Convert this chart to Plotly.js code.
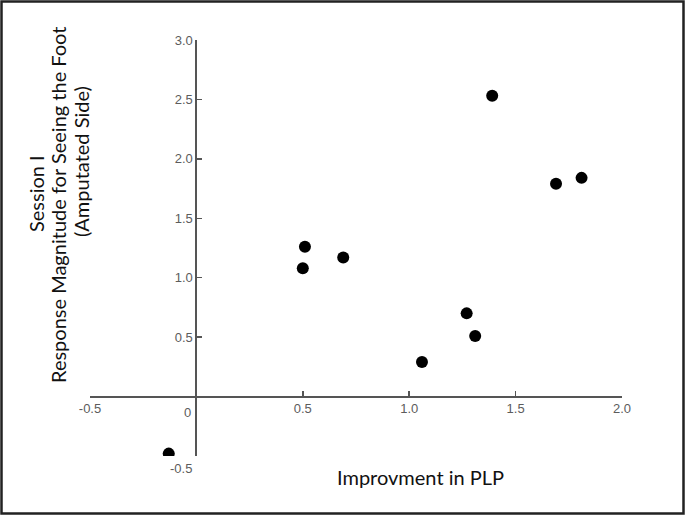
<!DOCTYPE html>
<html>
<head>
<meta charset="utf-8">
<script src="https://cdn.plot.ly/plotly-3.0.1.min.js"></script>
<style>html,body{margin:0;padding:0;background:#fff;}#chart{width:685px;height:515px;}</style>
</head>
<body>
<div id="chart"></div>
<script>
// Data
const improvementPLP = [-0.13, 0.51, 0.50, 0.69, 1.06, 1.27, 1.31, 1.39, 1.69, 1.81];
const responseMagnitude = [-0.48, 1.26, 1.08, 1.17, 0.29, 0.70, 0.51, 2.53, 1.79, 1.84];

const xTickVals = [-0.5, 0, 0.5, 1.0, 1.5, 2.0];
const xTickText = ['-0.5', '', '0.5', '1.0', '1.5', '2.0'];
const yTickVals = [-0.5, 0.5, 1.0, 1.5, 2.0, 2.5, 3.0];
const yTickText = ['', '0.5', '1.0', '1.5', '2.0', '2.5', '3.0'];

const xTitle = 'Improvment in PLP';
const yTitleLines = ['Session I', 'Response Magnitude for Seeing the Foot', '(Amputated Side)'];

const xRange = [-0.5, 2.0];
const yRange = [-0.5, 3.0];

const tickFont = {family: 'Liberation Sans, Arial, sans-serif', size: 13, color: '#5c5c5c'};
const titleFont = {family: 'Lato, Open Sans, sans-serif', size: 20, color: '#111'};

const trace = {
  x: improvementPLP,
  y: responseMagnitude,
  type: 'scatter',
  mode: 'markers',
  marker: {color: '#000', size: 12},
  hoverinfo: 'x+y',
  showlegend: false
};

const L = 90, R = 63, T = 40, B = 59, W = 685, H = 515;
const pw = W - L - R, ph = H - T - B;
function px(xp) { return (xp - L) / pw; }
function py(yp) { return (H - B - yp) / ph; }

const layout = {
  width: W, height: H,
  margin: {l: L, r: R, t: T, b: B, pad: 0},
  paper_bgcolor: '#fff',
  plot_bgcolor: '#fff',
  xaxis: {
    range: xRange,
    anchor: 'free',
    position: (0 - yRange[0]) / (yRange[1] - yRange[0]),
    showline: true, linecolor: '#555', linewidth: 2,
    showgrid: false, zeroline: false,
    ticks: 'inside', ticklen: 5, tickwidth: 1.5, tickcolor: '#555',
    tickvals: xTickVals, ticktext: xTickText,
    tickfont: tickFont,
    automargin: false, fixedrange: true
  },
  yaxis: {
    range: yRange,
    anchor: 'free',
    position: (0 - xRange[0]) / (xRange[1] - xRange[0]),
    showline: true, linecolor: '#555', linewidth: 2,
    showgrid: false, zeroline: false,
    ticks: 'inside', ticklen: 5, tickwidth: 1.5, tickcolor: '#555',
    tickvals: yTickVals, ticktext: yTickText,
    tickfont: tickFont,
    automargin: false, fixedrange: true
  },
  annotations: [
    {text: '0', xref: 'x', yref: 'y', x: 0, y: 0, xanchor: 'right', yanchor: 'top',
     xshift: -3, yshift: -6, showarrow: false, font: tickFont},
    {text: '-0.5', xref: 'x', yref: 'y', x: 0, y: -0.5, xanchor: 'right', yanchor: 'top',
     xshift: -2, yshift: -3, showarrow: false, font: tickFont},
    {text: xTitle, xref: 'paper', yref: 'paper', x: px(420), y: py(477),
     xanchor: 'center', yanchor: 'middle', showarrow: false, font: titleFont},
    {text: yTitleLines[0], xref: 'paper', yref: 'paper', x: px(36), y: py(194),
     xanchor: 'center', yanchor: 'middle', textangle: -90, showarrow: false, font: titleFont},
    {text: yTitleLines[1], xref: 'paper', yref: 'paper', x: px(58), y: py(205),
     xanchor: 'center', yanchor: 'middle', textangle: -90, showarrow: false, font: titleFont},
    {text: yTitleLines[2], xref: 'paper', yref: 'paper', x: px(81), y: py(162),
     xanchor: 'center', yanchor: 'middle', textangle: -90, showarrow: false, font: titleFont}
  ],
  shapes: [
    {type: 'rect', xref: 'paper', yref: 'paper', layer: 'above',
     x0: px(1.5), x1: px(683.5), y0: py(513.5), y1: py(1.5),
     line: {color: '#222', width: 2.5}}
  ]
};

Plotly.newPlot('chart', [trace], layout, {displayModeBar: false, staticPlot: true});
</script>
</body>
</html>
